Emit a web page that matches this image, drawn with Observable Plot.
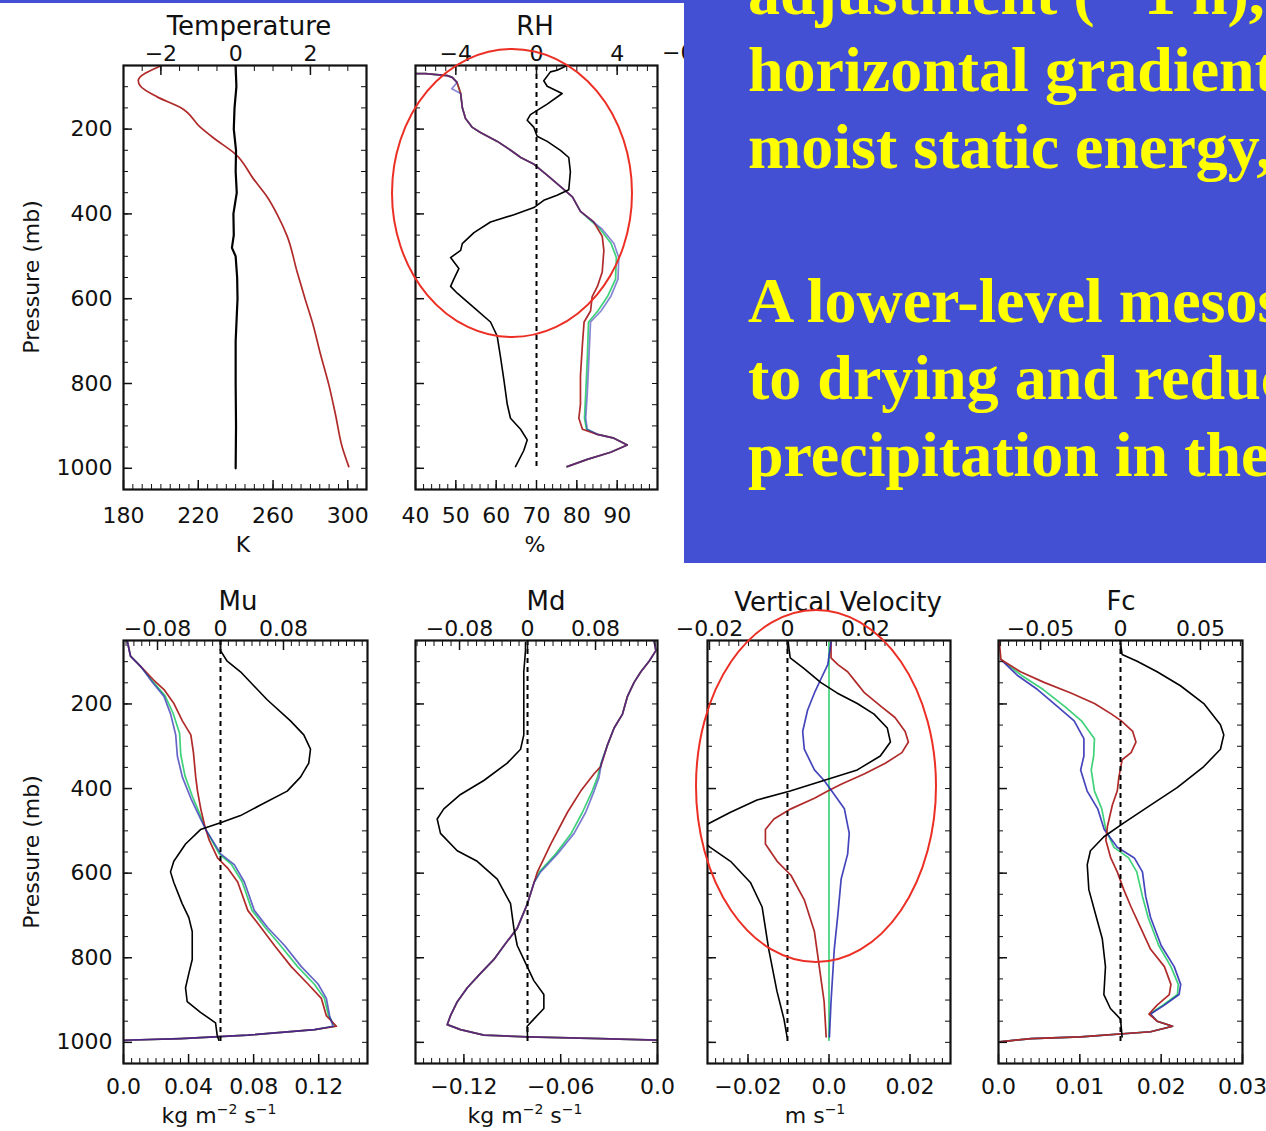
<!DOCTYPE html>
<html><head><meta charset="utf-8">
<script src="https://cdn.jsdelivr.net/npm/d3@7"></script>
<script src="https://cdn.jsdelivr.net/npm/@observablehq/plot@0.6"></script>
<style>
html,body{margin:0;padding:0;background:#fff;}
#stage{position:relative;width:1266px;height:1131px;overflow:hidden;background:#fff;}
#stage > svg{position:absolute;}
</style></head><body><div id="stage"></div>
<script>
// ---------- DATA: [pressure (mb), value] ----------
// Temperature (K, bottom axis) and difference (K, top axis)
const tempRed = [[51,199.8],[86,187.9],[99,189.1],[124,198],[149,210.5],[196,221.2],[221,228.2],[259,239.9],[318,249.6],[360,256.9],[401,262.2],[453,267.6],[537,272.9],[604,277.4],[655,281],[731,285.4],[802,289.8],[873,293.4],[950,297],[996,300.5]];
const tempDiff = [[51,0],[100,0.02],[150,-0.03],[200,-0.05],[250,0.01],[300,0],[350,0.03],[400,-0.06],[450,-0.05],[480,-0.1],[500,0],[550,0.04],[600,0.05],[640,0.03],[700,0],[800,0],[900,0.01],[1000,0]];

// RH (%, bottom) and difference (%, top)
const rhRed = [[69,40],[69,42.5],[74,47.9],[78,49.1],[90,50.3],[116,51.2],[149,51.6],[175,52.4],[196,54.1],[208,56.1],[229,60.3],[250,63.6],[267,66.1],[283,69.4],[309,72.7],[339,76.4],[360,78.9],[394,80.9],[419,84.2],[453,86.3],[486,86.7],[537,86.3],[571,85.1],[595,83.8],[629,83.4],[655,81.8],[706,81.4],[781,80.9],[849,80.9],[882,80.5],[908,81.4],[920,85.1],[929,89.2],[945,92.5],[962,88.4],[979,82.6],[996,77.6]];
const rhGreen = [[69,40],[69,42.5],[74,47.9],[78,49.1],[90,50.3],[116,51.2],[149,51.6],[175,52.4],[196,54.1],[208,56.1],[229,60.3],[250,63.6],[267,66.1],[283,69.4],[309,72.7],[339,76.4],[360,78.9],[394,80.9],[436,85.8],[470,88.5],[503,89.8],[554,89.6],[595,87.6],[629,85.2],[655,82.9],[739,82.6],[823,82.2],[882,81.9],[908,82.4],[920,85.1],[929,89.2],[945,92.5],[962,88.4],[979,82.6],[996,77.6]];
const rhBlue = [[69,40],[69,42.5],[74,47.9],[78,49.1],[90,50.3],[105,49.0],[116,51.2],[149,51.6],[175,52.4],[196,54.1],[208,56.1],[229,60.3],[250,63.6],[267,66.1],[283,69.4],[309,72.7],[339,76.4],[360,78.9],[394,80.9],[436,86.3],[470,89.2],[503,90.4],[554,90.2],[595,88.4],[629,86],[655,83.4],[739,83],[823,82.6],[882,82.2],[908,82.6],[920,85.1],[929,89.2],[945,92.5],[962,88.4],[979,82.6],[996,77.6]];
const rhDiff = [[52,1.44],[61,1.02],[65,0.69],[86,0.36],[99,0.53],[116,1.27],[141,0.53],[166,-0.3],[179,-0.46],[196,-0.13],[217,0.03],[229,0.53],[250,1.19],[267,1.6],[301,1.68],[343,1.6],[356,1.02],[368,0.36],[385,-0.13],[402,-1.12],[419,-2.28],[444,-3.1],[470,-3.68],[486,-3.76],[503,-4.26],[529,-3.85],[554,-4.1],[571,-4.26],[587,-3.93],[621,-3.1],[655,-2.28],[688,-1.95],[739,-1.78],[790,-1.62],[849,-1.45],[882,-1.29],[908,-0.79],[933,-0.46],[958,-0.63],[996,-1.04]];

// Mu (kg m-2 s-1)
const muRed = [[51,0.0023],[87,0.0043],[111,0.0105],[144,0.0187],[166,0.0249],[199,0.031],[240,0.0362],[273,0.0414],[315,0.043],[373,0.0444],[406,0.0455],[448,0.0475],[489,0.05],[522,0.0527],[564,0.0578],[588,0.064],[621,0.0702],[688,0.0764],[729,0.0846],[771,0.0928],[821,0.1031],[862,0.1134],[896,0.1216],[937,0.1247],[962,0.1309],[970,0.1175],[983,0.0764],[991,0.0352],[995,0]];
const muGreen = [[51,0.0023],[87,0.0043],[111,0.0105],[148,0.0183],[180,0.0255],[222,0.0305],[270,0.0345],[320,0.0352],[370,0.0378],[420,0.0425],[470,0.048],[497,0.0506],[555,0.059],[580,0.0665],[621,0.073],[688,0.079],[729,0.0872],[771,0.0965],[821,0.107],[862,0.1172],[896,0.1235],[937,0.126],[962,0.13],[970,0.1175],[983,0.0764],[991,0.0352],[995,0]];
const muBlue = [[51,0.0023],[87,0.0043],[111,0.0105],[150,0.018],[182,0.0249],[224,0.029],[273,0.0321],[323,0.0331],[373,0.0362],[423,0.0414],[473,0.0475],[497,0.0506],[555,0.0599],[580,0.0681],[621,0.0743],[688,0.0804],[729,0.0887],[771,0.099],[821,0.1093],[862,0.1196],[896,0.1247],[937,0.1267],[962,0.1288],[970,0.1175],[983,0.0764],[991,0.0352],[995,0]];
const muDiff = [[51,0],[74,0],[99,0.0085],[124,0.0254],[157,0.0423],[190,0.0593],[240,0.0889],[273,0.1058],[307,0.1143],[340,0.1121],[373,0.1016],[406,0.0847],[439,0.0508],[464,0.0254],[481,0],[497,-0.0254],[531,-0.0444],[572,-0.0593],[597,-0.0635],[622,-0.0593],[672,-0.0487],[705,-0.0402],[738,-0.0359],[804,-0.0359],[837,-0.0402],[871,-0.0444],[904,-0.0423],[929,-0.0254],[954,-0.0063],[983,-0.0042],[995,-0.0021]];

// Md (kg m-2 s-1)
const mdRed = [[51,-0.0021],[74,-0.001],[99,-0.0052],[124,-0.0103],[149,-0.0145],[182,-0.0186],[224,-0.0217],[257,-0.0269],[298,-0.0311],[348,-0.0352],[365,-0.0393],[406,-0.0476],[456,-0.0558],[531,-0.0661],[597,-0.0744],[622,-0.0765],[672,-0.0806],[730,-0.0869],[771,-0.0951],[804,-0.1014],[837,-0.1097],[871,-0.1179],[904,-0.1241],[937,-0.1283],[958,-0.1303],[970,-0.1221],[983,-0.1076],[987,-0.0806],[991,-0.0352],[995,0]];
const mdGreen = [[51,-0.0021],[74,-0.001],[99,-0.0052],[124,-0.0103],[149,-0.0145],[182,-0.0186],[224,-0.0217],[257,-0.0269],[298,-0.0311],[340,-0.0350],[373,-0.0372],[406,-0.0405],[456,-0.0465],[506,-0.0535],[555,-0.0632],[597,-0.0732],[622,-0.0765],[672,-0.0806],[730,-0.0869],[771,-0.0951],[804,-0.1014],[837,-0.1097],[871,-0.1179],[904,-0.1241],[937,-0.1283],[958,-0.1303],[970,-0.1221],[983,-0.1076],[987,-0.0806],[991,-0.0352],[995,0]];
const mdBlue = [[51,-0.0021],[74,-0.001],[99,-0.0052],[124,-0.0103],[149,-0.0145],[182,-0.0186],[224,-0.0217],[257,-0.0269],[298,-0.0311],[340,-0.0348],[373,-0.0362],[406,-0.0393],[456,-0.0445],[506,-0.0517],[555,-0.0621],[597,-0.0724],[622,-0.0765],[672,-0.0806],[730,-0.0869],[771,-0.0951],[804,-0.1014],[837,-0.1097],[871,-0.1179],[904,-0.1241],[937,-0.1283],[958,-0.1303],[970,-0.1221],[983,-0.1076],[987,-0.0806],[991,-0.0352],[995,0]];
const mdDiff = [[55,-0.0024],[74,-0.0024],[124,-0.0044],[273,-0.0044],[307,-0.0082],[340,-0.0239],[381,-0.0514],[414,-0.0788],[448,-0.0985],[472,-0.1063],[506,-0.1024],[547,-0.0827],[572,-0.0592],[614,-0.0356],[672,-0.02],[730,-0.0161],[771,-0.0121],[804,-0.0044],[854,0.0074],[887,0.0192],[920,0.0192],[945,0.0074],[962,-0.0004],[987,0]];

// Vertical velocity (m s-1)
const vvRed = [[54,0.0005],[91,0.0005],[107,0.0022],[124,0.0046],[149,0.0067],[174,0.0088],[207,0.013],[232,0.0163],[265,0.0188],[290,0.0196],[315,0.018],[340,0.0139],[365,0.0088],[390,0.003],[406,-0.0003],[423,-0.0036],[448,-0.0094],[472,-0.0136],[497,-0.0157],[531,-0.0157],[572,-0.0128],[605,-0.0094],[663,-0.0061],[738,-0.0036],[821,-0.0024],[904,-0.0012],[987,-0.0007]];
const vvGreen = [[54,0],[300,0],[600,0],[900,0],[995,0]];
const vvBlue = [[54,0.0005],[107,-0.0003],[141,-0.002],[174,-0.0036],[215,-0.0053],[265,-0.0065],[307,-0.0061],[356,-0.0036],[381,-0.0012],[414,0.0013],[448,0.0038],[506,0.005],[555,0.0046],[614,0.003],[697,0.0022],[780,0.0013],[904,0.0005],[987,0.0001]];
const vvDiff = [[54,0.0002],[70,0.0004],[91,0.0007],[116,0.0042],[149,0.0085],[174,0.0127],[199,0.0179],[224,0.0222],[257,0.0256],[290,0.0264],[323,0.0238],[356,0.0179],[381,0.0093],[406,0.0007],[427,-0.0078],[456,-0.0146],[481,-0.0198],[505,-0.0245],[539,-0.0198],[572,-0.0146],[622,-0.0095],[680,-0.0065],[780,-0.0048],[879,-0.0027],[945,-0.0009],[987,-0.0001]];

// Fc
const fcRed = [[54,0.0001],[95,0.0003],[124,0.0027],[149,0.0056],[174,0.0089],[199,0.0118],[224,0.0139],[240,0.0151],[265,0.0165],[290,0.0169],[315,0.0163],[332,0.0152],[373,0.0148],[406,0.0146],[439,0.014],[489,0.0134],[522,0.0132],[564,0.0138],[597,0.0146],[639,0.0154],[680,0.0163],[730,0.0175],[780,0.0187],[821,0.0204],[863,0.0212],[887,0.021],[912,0.0195],[933,0.0185],[950,0.0195],[962,0.0214],[975,0.0187],[987,0.0101],[991,0.004],[999,0.0001]];
const fcGreen = [[95,0.0003],[132,0.0028],[166,0.0055],[207,0.0082],[240,0.0102],[282,0.0118],[323,0.0117],[356,0.0114],[406,0.0118],[448,0.0127],[497,0.0132],[539,0.0142],[564,0.016],[597,0.017],[655,0.0177],[705,0.0184],[771,0.0197],[821,0.0212],[863,0.0221],[887,0.022],[912,0.0202],[933,0.0186],[950,0.0195],[962,0.0214],[975,0.0187],[987,0.0101],[991,0.004],[999,0.0001]];
const fcBlue = [[95,0.0003],[132,0.0023],[166,0.0048],[207,0.0073],[240,0.0093],[282,0.0105],[323,0.0105],[356,0.0101],[406,0.0109],[448,0.0122],[497,0.013],[539,0.0146],[564,0.0167],[597,0.0177],[655,0.0181],[705,0.0187],[771,0.02],[821,0.0216],[863,0.0224],[887,0.0222],[912,0.0204],[933,0.0187],[950,0.0195],[962,0.0214],[975,0.0187],[987,0.0101],[991,0.004],[999,0.0001]];
const fcDiff = [[57,0],[83,0.001],[99,0.0104],[124,0.0229],[157,0.0375],[199,0.0521],[249,0.0625],[273,0.0646],[307,0.0625],[348,0.0521],[398,0.0354],[439,0.0188],[481,0.0021],[514,-0.0104],[547,-0.0188],[580,-0.0208],[639,-0.0198],[697,-0.0156],[755,-0.0114],[821,-0.0094],[887,-0.0104],[920,-0.0063],[945,0],[987,0.001]];

// Zero reference (dashed) line of the top axis
const zeroLine = [{x: 0, p1: 50, p2: 1000}];

// ---------- TICKS ----------
const pTicks = [200, 400, 600, 800, 1000];
const tempBottomTicks = [180, 220, 260, 300], tempBottomLabels = ["180", "220", "260", "300"];
const tempTopTicks = [-2, 0, 2], tempTopLabels = ["−2", "0", "2"];
const rhBottomTicks = [40, 50, 60, 70, 80, 90], rhBottomLabels = ["40", "50", "60", "70", "80", "90"];
const rhTopTicks = [-4, 0, 4], rhTopLabels = ["−4", "0", "4"];
const muBottomTicks = [0, 0.04, 0.08, 0.12], muBottomLabels = ["0.0", "0.04", "0.08", "0.12"];
const muTopTicks = [-0.08, 0, 0.08], muTopLabels = ["−0.08", "0", "0.08"];
const mdBottomTicks = [-0.12, -0.06, 0], mdBottomLabels = ["−0.12", "−0.06", "0.0"];
const mdTopTicks = [-0.08, 0, 0.08], mdTopLabels = ["−0.08", "0", "0.08"];
const vvBottomTicks = [-0.02, 0, 0.02], vvBottomLabels = ["−0.02", "0.0", "0.02"];
const vvTopTicks = [-0.02, 0, 0.02], vvTopLabels = ["−0.02", "0", "0.02"];
const fcBottomTicks = [0, 0.01, 0.02, 0.03], fcBottomLabels = ["0.0", "0.01", "0.02", "0.03"];
const fcTopTicks = [-0.05, 0, 0.05], fcTopLabels = ["−0.05", "0", "0.05"];

// ---------- STYLE ----------
const RED = "#b02a2a", GREEN = "#3fd27a", BLUE = "#2424b0", BLACK = "#000";
const M = {top: 60, right: 30, bottom: 60, left: 90};
const stage = document.getElementById("stage");

function minorTicks(domain, step) {
  const lo = Math.ceil(Math.min(...domain) / step - 1e-9), hi = Math.floor(Math.max(...domain) / step + 1e-9);
  return d3.range(lo, hi + 1).map(i => +(i * step).toFixed(6));
}
function labelFmt(ticks, labels) {
  const m = new Map(ticks.map((t, i) => [t, labels[i]]));
  return d => m.has(d) ? m.get(d) : "";
}
function place(svg, fx, fy) {
  svg.style.left = (fx - M.left) + "px";
  svg.style.top = (fy - M.top) + "px";
  stage.appendChild(svg);
}
const svgStyle = {backgroundColor: "transparent", overflow: "visible", fontFamily: "DejaVu Sans", fontSize: "22px", color: "#111", position: "absolute", maxWidth: "none"};

function panel(c) {
  const W = c.fw + M.left + M.right, H = c.fh + M.top + M.bottom;
  const yScale = {domain: [50, 1050], reverse: true};
  const pMinor = minorTicks([100, 1000], 50);
  const lines = c.runs.map(([data, color, op]) =>
    Plot.line(data, {x: d => d[1], y: d => d[0], stroke: color, strokeWidth: 1.7, strokeOpacity: op ?? 1, curve: c.curve ?? "linear", clip: true}));
  const base = Plot.plot({
    width: W, height: H,
    marginTop: M.top, marginRight: M.right, marginBottom: M.bottom, marginLeft: M.left,
    x: {domain: c.xb},
    y: yScale,
    style: svgStyle,
    marks: [
      ...lines,
      Plot.axisX({anchor: "bottom", ticks: c.bTicks, tickFormat: labelFmt(c.bTicks, c.bLabels), tickSize: -9, tickPadding: 9 + c.bPad, strokeWidth: 1.5, label: null}),
      Plot.axisX({anchor: "bottom", ticks: minorTicks(c.xb, c.bMinor), tickFormat: () => "", tickSize: -5, label: null}),
      Plot.axisY({anchor: "left", ticks: pTicks, tickFormat: c.yLabels ? (d => String(d)) : (() => ""), tickSize: -9, tickPadding: 20, strokeWidth: 1.5, label: null}),
      Plot.axisY({anchor: "left", ticks: pMinor, tickFormat: () => "", tickSize: -5, label: null}),
      Plot.axisY({anchor: "right", ticks: pMinor, tickFormat: () => "", tickSize: -6, label: null}),
      Plot.frame({stroke: "#111", strokeWidth: 2.2})
    ]
  });
  place(base, c.fx, c.fy);
  const top = Plot.plot({
    width: W, height: H,
    marginTop: M.top, marginRight: M.right, marginBottom: M.bottom, marginLeft: M.left,
    x: {domain: c.xt},
    y: {...yScale, axis: null},
    style: svgStyle,
    marks: [
      c.dashed === false ? null : Plot.ruleX(zeroLine, {x: "x", y1: "p1", y2: "p2", stroke: BLACK, strokeWidth: 2, strokeDasharray: "5,4"}),
      Plot.line(c.diff, {x: d => d[1], y: d => d[0], stroke: BLACK, strokeWidth: c.diffWidth ?? 1.6, clip: true}),
      Plot.axisX({anchor: "top", ticks: c.tTicks, tickFormat: labelFmt(c.tTicks, c.tLabels), tickSize: -9, tickPadding: 14, strokeWidth: 1.5, label: null}),
      Plot.axisX({anchor: "top", ticks: minorTicks(c.xt, c.tMinor), tickFormat: () => "", tickSize: -5, label: null})
    ]
  });
  place(top, c.fx, c.fy);
}

// Top-axis domains follow from where the zero of each top axis sits in the frame
panel({fx: 123, fy: 65, fw: 243, fh: 424, xb: [180, 310], xt: [-3, 3.5], bPad: 18,
  bTicks: tempBottomTicks, bLabels: tempBottomLabels, bMinor: 5,
  tTicks: tempTopTicks, tLabels: tempTopLabels, tMinor: 0.5, yLabels: true, curve: "monotone-y",
  dashed: false, diffWidth: 2.2,
  runs: [[tempRed, RED]], diff: tempDiff});
panel({fx: 415, fy: 65, fw: 242, fh: 424, xb: [40, 100], xt: [-6, 6], bPad: 18,
  bTicks: rhBottomTicks, bLabels: rhBottomLabels, bMinor: 2,
  tTicks: rhTopTicks, tLabels: rhTopLabels, tMinor: 0.5, yLabels: false,
  runs: [[rhGreen, GREEN], [rhRed, RED], [rhBlue, BLUE, 0.55]], diff: rhDiff});
panel({fx: 123, fy: 640, fw: 244, fh: 423, xb: [0, 0.15], xt: [-0.1232, 0.1867], bPad: 15,
  bTicks: muBottomTicks, bLabels: muBottomLabels, bMinor: 0.005,
  tTicks: muTopTicks, tLabels: muTopLabels, tMinor: 0.01, yLabels: true,
  runs: [[muGreen, GREEN], [muRed, RED], [muBlue, BLUE, 0.7]], diff: muDiff});
panel({fx: 415, fy: 640, fw: 242, fh: 423, xb: [-0.15, 0], xt: [-0.1318, 0.1529], bPad: 15,
  bTicks: mdBottomTicks, bLabels: mdBottomLabels, bMinor: 0.005,
  tTicks: mdTopTicks, tLabels: mdTopLabels, tMinor: 0.01, yLabels: false,
  runs: [[mdGreen, GREEN], [mdRed, RED], [mdBlue, BLUE, 0.6]], diff: mdDiff});
panel({fx: 707, fy: 640, fw: 243, fh: 423, xb: [-0.03, 0.03], xt: [-0.0205, 0.0418], bPad: 15,
  bTicks: vvBottomTicks, bLabels: vvBottomLabels, bMinor: 0.002,
  tTicks: vvTopTicks, tLabels: vvTopLabels, tMinor: 0.0025, yLabels: false,
  runs: [[vvGreen, GREEN], [vvRed, RED], [vvBlue, BLUE, 0.85]], diff: vvDiff});
panel({fx: 998, fy: 640, fw: 244, fh: 423, xb: [0, 0.03], xt: [-0.0763, 0.0763], bPad: 15,
  bTicks: fcBottomTicks, bLabels: fcBottomLabels, bMinor: 0.001,
  tTicks: fcTopTicks, tLabels: fcTopLabels, tMinor: 0.005, yLabels: false,
  runs: [[fcGreen, GREEN], [fcBlue, BLUE, 0.85], [fcRed, RED]], diff: fcDiff});

// ---------- titles, units, text box and annotation ellipses ----------
const ann = `
<svg style="left:0;top:0;position:absolute" width="1266" height="1131" viewBox="0 0 1266 1131">
 <g font-family="DejaVu Sans" fill="#111" text-anchor="middle">
  <g font-size="26">
   <text x="249" y="35">Temperature</text>
   <text x="535" y="35">RH</text>
   <text x="238" y="610">Mu</text>
   <text x="546" y="610">Md</text>
   <text x="838" y="611">Vertical Velocity</text>
   <text x="1121" y="610">Fc</text>
  </g>
  <g font-size="22">
   <text x="243" y="552">K</text>
   <text x="535" y="552">%</text>
   <text x="219" y="1123">kg m<tspan dy="-9" font-size="14">−2</tspan><tspan dy="9"> s</tspan><tspan dy="-9" font-size="14">−1</tspan></text>
   <text x="525" y="1123">kg m<tspan dy="-9" font-size="14">−2</tspan><tspan dy="9"> s</tspan><tspan dy="-9" font-size="14">−1</tspan></text>
   <text x="815" y="1123">m s<tspan dy="-9" font-size="14">−1</tspan></text>
   <text transform="translate(39,277) rotate(-90)">Pressure (mb)</text>
   <text transform="translate(39,852) rotate(-90)">Pressure (mb)</text>
   <text x="662" y="60" text-anchor="start">−0.08</text>
  </g>
 </g>
 <rect x="0" y="0" width="684" height="3" fill="#4350d4"/>
 <rect x="684" y="0" width="582" height="563" fill="#4350d4"/>
 <g font-family="Liberation Serif, Times New Roman, serif" font-weight="bold" font-size="64" fill="#ffff00">
  <text x="748" y="14">adjustment (~ 1 h),</text>
  <text x="748" y="91">horizontal gradient</text>
  <text x="748" y="168">moist static energy,</text>
  <text x="748" y="322">A lower-level mesoscale</text>
  <text x="748" y="399">to drying and reduced</text>
  <text x="748" y="476">precipitation in the</text>
 </g>
 <g fill="none" stroke="#ec2f24" stroke-width="2">
  <ellipse cx="512" cy="193" rx="120" ry="144"/>
  <ellipse cx="816" cy="786" rx="120" ry="176"/>
 </g>
</svg>`;
stage.insertAdjacentHTML("beforeend", ann);
</script>
</body></html>
